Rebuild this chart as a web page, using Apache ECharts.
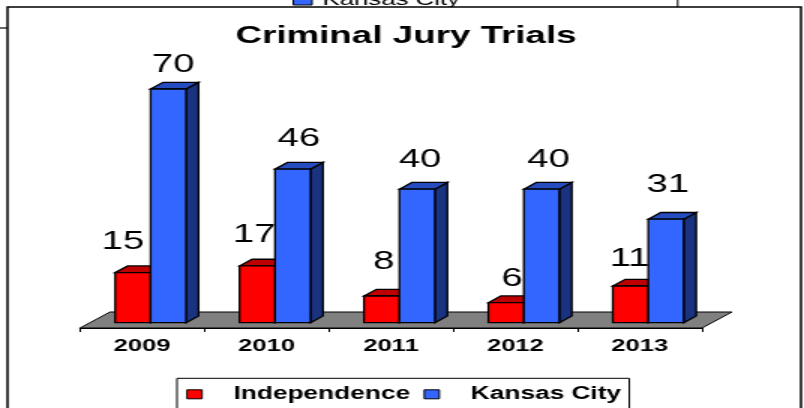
<!DOCTYPE html>
<html>
<head>
<meta charset="utf-8">
<style>
  html, body { margin: 0; padding: 0; background: #fff; overflow: hidden; }
  /* the source picture is a slide stretched sideways, so draw narrow and widen it */
  #chart { width: 536px; height: 408px; transform: scaleX(1.5); transform-origin: 0 0; }
</style>
<script src="https://cdn.jsdelivr.net/npm/echarts@6/dist/echarts.min.js"></script>
</head>
<body>
<div id="chart"></div>
<script>
const years = ['2009', '2010', '2011', '2012', '2013']
const independence = [15, 17, 8, 6, 11]
const kansasCity = [70, 46, 40, 40, 31]

// hand placed data labels in the source: shift from the bar's top centre, [dx, dy]
const redLabelShift = [[-6.7, -31], [-2, -31], [1.3, -34], [4, -24], [-0.7, -27]]
const blueLabelShift = [[3.3, -24], [4, -30], [2, -29], [4.7, -29], [1.3, -34]]

const FONT = '"Liberation Sans", Arial, sans-serif'
const DEPTH_X = 8.33
const DEPTH_Y = 6.7

function barRenderer(side, colors, shifts) {
  return function (params, api) {
    const idx = params.dataIndex
    const band = api.size([1, 0])[0]
    const barW = band * 0.285
    const top = api.coord([api.value(0), api.value(1)])
    const base = api.coord([api.value(0), 0])
    const x0 = top[0] + band * 0.068 + (side < 0 ? -barW : 0)
    const x1 = x0 + barW
    const y0 = top[1]
    const y1 = base[1]
    const line = { stroke: '#000', lineWidth: 1.3 }
    return {
      type: 'group',
      children: [
        {
          type: 'polygon',
          shape: { points: [[x1, y1], [x1 + DEPTH_X, y1 - DEPTH_Y], [x1 + DEPTH_X, y0 - DEPTH_Y], [x1, y0]] },
          style: Object.assign({ fill: colors.side }, line)
        },
        {
          type: 'polygon',
          shape: { points: [[x0, y0], [x0 + DEPTH_X, y0 - DEPTH_Y], [x1 + DEPTH_X, y0 - DEPTH_Y], [x1, y0]] },
          style: Object.assign({ fill: colors.top }, line)
        },
        {
          type: 'rect',
          shape: { x: x0, y: y0, width: barW, height: y1 - y0 },
          style: Object.assign({ fill: colors.front }, line)
        },
        {
          type: 'text',
          z2: 10,
          x: (x0 + x1) / 2 + shifts[idx][0],
          y: y0 + shifts[idx][1],
          style: {
            text: String(api.value(1)),
            fill: '#000',
            font: '25.5px ' + FONT,
            textAlign: 'center',
            textVerticalAlign: 'middle'
          }
        }
      ]
    }
  }
}

// gray floor the bars stand on, hung off the grid rectangle
function floorRenderer(params) {
  const c = params.coordSys
  const yFront = c.y + c.height + 5.3
  const yBack = c.y + c.height - 10.7
  return {
    type: 'polygon',
    shape: {
      points: [
        [c.x, yFront],
        [c.x + c.width, yFront],
        [c.x + c.width + 20, yBack],
        [c.x + 20, yBack]
      ]
    },
    style: { fill: '#808080', stroke: '#000', lineWidth: 1 }
  }
}

const chart = echarts.init(document.getElementById('chart'))
chart.setOption({
  animation: false,
  backgroundColor: '#fff',
  title: {
    text: 'Criminal Jury Trials',
    left: 270.7,
    top: 24,
    textAlign: 'center',
    padding: 0,
    textStyle: { fontFamily: FONT, fontSize: 24.5, fontWeight: 'bold', color: '#000' }
  },
  legend: {
    data: ['Independence', 'Kansas City'],
    left: 118,
    top: 378.3,
    icon: 'rect',
    itemWidth: 10,
    itemHeight: 9,
    itemGap: 9,
    padding: [7, 5.5, 14, 6.2],
    borderColor: '#000',
    borderWidth: 1,
    backgroundColor: '#fff',
    itemStyle: { borderColor: '#000', borderWidth: 1 },
    textStyle: {
      fontFamily: FONT,
      fontSize: 17.5,
      fontWeight: 'bold',
      color: '#000',
      padding: [0, 0, 0, 16]
    }
  },
  grid: { left: 53.3, right: 68, top: 89, bottom: 85.3 },
  xAxis: {
    type: 'category',
    data: years,
    offset: 5.3,
    z: 5,
    axisLine: { show: true, onZero: false, lineStyle: { color: '#000', width: 1 } },
    axisTick: { show: true, length: 4, lineStyle: { color: '#000', width: 1 } },
    axisLabel: { color: '#000', fontFamily: FONT, fontSize: 17, fontWeight: 'bold', margin: 10 }
  },
  yAxis: { type: 'value', min: 0, max: 70, show: false },
  // edges of the chart sitting underneath this one in the source slide
  graphic: [
    { type: 'rect', z: 0, shape: { x: 195.5, y: -4, width: 12.5, height: 9 }, style: { fill: '#3366ff', stroke: '#000', lineWidth: 1 } },
    { type: 'text', z: 0, x: 215, y: 9, style: { text: 'Kansas City', fill: '#000', font: '17.2px ' + FONT, textVerticalAlign: 'bottom' } },
    { type: 'line', z: 0, shape: { x1: 451.8, y1: 0, x2: 451.8, y2: 7 }, style: { stroke: '#000', lineWidth: 1 } },
    { type: 'line', z: 0, shape: { x1: 0, y1: 28, x2: 5, y2: 28 }, style: { stroke: '#333', lineWidth: 1.5 } },
    { type: 'rect', z: 0, shape: { x: 5, y: 7, width: 529, height: 420 }, style: { fill: '#fff', stroke: '#000', lineWidth: 1.5 } }
  ],
  series: [
    {
      name: 'floor',
      type: 'custom',
      silent: true,
      coordinateSystem: 'cartesian2d',
      data: [[0, 0]],
      renderItem: floorRenderer,
      z: 1
    },
    {
      name: 'Independence',
      type: 'custom',
      silent: true,
      coordinateSystem: 'cartesian2d',
      encode: { x: 0, y: 1 },
      itemStyle: { color: '#ff0000' },
      data: independence.map((v, i) => [i, v]),
      renderItem: barRenderer(-1, { front: '#ff0000', top: '#bf0000', side: '#800000' }, redLabelShift),
      z: 2
    },
    {
      name: 'Kansas City',
      type: 'custom',
      silent: true,
      coordinateSystem: 'cartesian2d',
      encode: { x: 0, y: 1 },
      itemStyle: { color: '#3366ff' },
      data: kansasCity.map((v, i) => [i, v]),
      renderItem: barRenderer(1, { front: '#3366ff', top: '#264dbf', side: '#1a3380' }, blueLabelShift),
      z: 3
    }
  ]
})
</script>
</body>
</html>
